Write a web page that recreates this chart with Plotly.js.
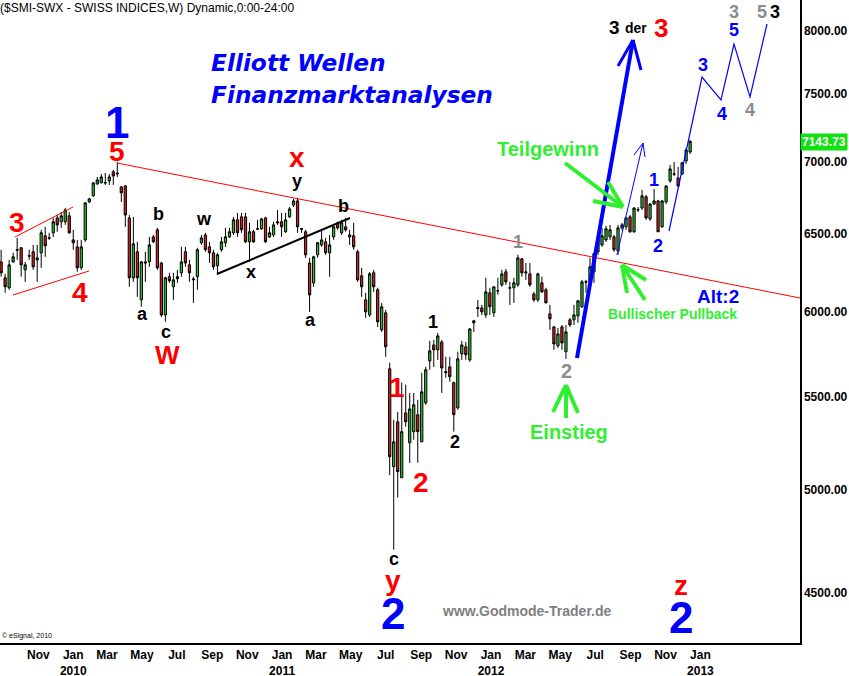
<!DOCTYPE html>
<html><head><meta charset="utf-8">
<script src="https://cdn.plot.ly/plotly-3.0.1.min.js"></script>
<style>html,body{margin:0;padding:0;background:#fff;}#chart{width:849px;height:676px;}</style>
</head><body><div id="chart"></div>
<script>
// Weekly SMI bars (first bar week of 28 Aug 2009)
const firstWeek = [2009, 7, 28];
const opens = [6315,6213,6150,6315,6390,6407,6264,6352,6381,6328,6374,6486,6470,6506,6606,6580,6580,6620,6459,6413,
6277,6459,6715,6757,6840,6847,6850,6861,6925,6910,6819,6826,6606,6213,6381,6074,6315,6315,6479,6526,
6308,5981,6220,6156,6220,6245,6381,6296,6200,6220,6440,6492,6413,6374,6290,6394,6440,6479,6506,6593,
6613,6613,6446,6513,6530,6533,6606,6479,6492,6580,6580,6513,6613,6694,6722,6530,6513,6308,6181,6361,
6426,6446,6374,6479,6573,6506,6546,6479,6486,6381,6226,6074,5981,6245,6137,5890,5994,5660,5120,5361,
5062,5410,5247,5307,5400,5252,5466,5706,5800,5771,5818,5637,5671,5580,5438,5747,5789,5712,5933,6020,
6024,5981,6118,5994,6130,6168,6251,6150,6150,6168,6335,6251,6238,6111,6074,6181,6137,5988,5908,5795,
5908,5760,5951,5951,5975,6031,6185,6187,6251,6381,6426,6459,6479,6479,6387,6539,6546,6613,6513,6660,
6673,6750,6599,6701,6722,6546,6715,6861,6908,6882,6910,7003,7068];
const highs = [6394,6238,6328,6374,6472,6413,6315,6394,6426,6426,6526,6546,6506,6606,6626,6646,6673,6646,6526,6459,
6459,6715,6743,6854,6889,6910,6917,6910,6939,6996,6826,6833,6626,6613,6446,6320,6381,6479,6492,6539,
6315,6220,6245,6245,6264,6413,6413,6328,6220,6407,6492,6506,6446,6394,6374,6479,6539,6539,6613,6640,
6640,6640,6573,6526,6593,6606,6613,6546,6580,6660,6640,6640,6680,6736,6743,6539,6526,6341,6355,6446,
6526,6472,6492,6550,6580,6593,6606,6526,6573,6394,6277,6118,6251,6264,6150,6055,6012,5695,5372,5416,
5580,5569,5522,5522,5483,5637,5671,5824,5830,5872,5830,5730,5730,5586,5760,5824,5818,5902,5951,6074,
6043,6213,6150,6156,6213,6264,6270,6187,6213,6361,6341,6308,6308,6124,6245,6220,6150,6043,5914,5902,
5920,5920,5963,6043,6074,6200,6200,6341,6374,6479,6539,6553,6559,6492,6559,6573,6613,6626,6680,6680,
6798,6764,6708,6805,6729,6729,6826,6974,6996,6960,6996,7097,7155];
const lows = [6220,6118,6137,6308,6328,6220,6187,6328,6264,6187,6277,6348,6459,6479,6513,6539,6559,6500,6394,6251,
6264,6446,6708,6750,6833,6847,6833,6833,6833,6889,6715,6546,6156,6187,6093,6031,6187,6283,6440,6264,
5969,5939,6181,6074,6181,6220,6283,6187,6055,6137,6426,6381,6308,6264,6232,6381,6413,6472,6492,6479,
6506,6440,6315,6440,6526,6526,6440,6472,6479,6559,6479,6506,6606,6680,6506,6506,6341,6000,6156,6341,
6413,6361,6220,6459,6526,6492,6513,6426,6394,6187,6093,5963,5969,6124,5908,5878,5730,5076,4703,4960,
5062,5334,5140,5263,5141,5252,5455,5654,5671,5712,5522,5608,5586,5307,5427,5712,5712,5700,5878,5969,
5981,5963,5981,5969,6105,6156,6168,6043,6055,6156,6220,6200,6156,6062,6062,6118,6055,5890,5771,5783,
5771,5718,5908,5920,5933,6024,6118,6181,6181,6361,6413,6446,6459,6381,6361,6526,6526,6506,6506,6646,
6660,6593,6586,6694,6513,6539,6701,6847,6896,6819,6903,6981,7053];
const closes = [6245,6156,6296,6348,6395,6296,6296,6355,6283,6341,6506,6420,6472,6580,6559,6620,6660,6506,6440,6277,
6413,6708,6736,6847,6868,6889,6847,6889,6896,6915,6778,6626,6213,6433,6213,6315,6308,6426,6446,6277,
5981,6213,6194,6200,6207,6315,6308,6245,6205,6394,6472,6394,6374,6283,6361,6446,6479,6513,6593,6506,
6526,6446,6513,6446,6533,6599,6446,6506,6559,6573,6546,6593,6667,6722,6546,6533,6361,6105,6348,6440,
6459,6374,6426,6546,6539,6573,6526,6492,6413,6200,6156,6000,6238,6156,5939,6031,5789,5173,5252,5094,
5307,5361,5432,5455,5307,5528,5654,5765,5771,5854,5665,5643,5614,5400,5718,5800,5742,5896,5945,6025,
6000,6124,6031,6156,6131,6238,6187,6148,6181,6341,6245,6245,6168,6074,6238,6124,6055,5957,5806,5866,
5812,5878,5920,5981,6068,6187,6188,6283,6368,6459,6486,6533,6526,6394,6539,6559,6606,6513,6673,6662,
6757,6606,6701,6722,6513,6722,6826,6946,6910,6826,6989,7082,7143.73];

const tickDates = ['2009-11-01','2010-01-01','2010-03-01','2010-05-01','2010-07-01','2010-09-01','2010-11-01',
'2011-01-01','2011-03-01','2011-05-01','2011-07-01','2011-09-01','2011-11-01',
'2012-01-01','2012-03-01','2012-05-01','2012-07-01','2012-09-01','2012-11-01','2013-01-01'];
const tickLabels = ['Nov','Jan<br>2010','Mar','May','Jul','Sep','Nov','Jan<br>2011','Mar','May','Jul','Sep','Nov',
'Jan<br>2012','Mar','May','Jul','Sep','Nov','Jan<br>2013'];
const priceTicks = [4500,5000,5500,6000,6500,7000,7500,8000];
const priceLabels = ['4500.00','5000.00','5500.00','6000.00','6500.00','7000.00','7500.00','8000.00'];
const lastPrice = 7143.73;
const chartTitle = '($SMI-SWX - SWISS INDICES,W) Dynamic,0:00-24:00';

const dates = opens.map((_, i) => {
  const d = new Date(Date.UTC(firstWeek[0], firstWeek[1], firstWeek[2] + 7 * i));
  return d.toISOString().slice(0, 10);
});

// plot-area pixel helpers (plot area is 800 x 643)
const PW = 800, PH = 643;
const px = x => x / PW, py = y => 1 - y / PH;
const F = 'Liberation Sans, Arial, sans-serif';
const GREEN = '#2fef2f', BLUE = '#0000ff', RED = '#ff0000';

function seg(x0, y0, x1, y1, color, width) {
  return {type:'line', xref:'paper', yref:'paper', x0:px(x0), y0:py(y0), x1:px(x1), y1:py(y1),
          line:{color:color, width:width}, layer:'above'};
}
function poly(pts, color, width) {
  const d = pts.map((p, i) => (i ? 'L' : 'M') + px(p[0]) + ',' + py(p[1])).join(' ');
  return {type:'path', xref:'paper', yref:'paper', path:d, line:{color:color, width:width}, layer:'above'};
}
function ann(text, x, y, color, size, extra) {
  return Object.assign({text:text, xref:'paper', yref:'paper', x:px(x), y:py(y), showarrow:false,
    xanchor:'center', yanchor:'middle', borderpad:0,
    font:{family:F, size:size, color:color, weight:'bold'}}, extra || {});
}
const headFont = {family:'DejaVu Sans, Verdana, sans-serif', size:23.3, color:BLUE, weight:'bold', style:'italic'};

const shapes = [
  seg(117,163,800,298,RED,1),
  seg(15,237,73,207,RED,1),
  seg(13,295,89,271,RED,1),
  seg(217,274,350,218,'#000000',2),
  seg(577,358,633,40,BLUE,4), seg(633,40,618,66,BLUE,3), seg(633,40,641,70,BLUE,3),
  seg(617,255,643,143,BLUE,1), seg(643,143,634,155,BLUE,1), seg(643,143,645,157,BLUE,1),
  poly([[669,231],[702,77],[721,100],[734,44],[750,97],[767,24]], BLUE, 1.2),
  seg(565,163,623,207,GREEN,4), seg(608,182,623,207,GREEN,4), seg(593,201,623,207,GREEN,4),
  seg(645,300,622,265,GREEN,4), seg(627,293,622,265,GREEN,4), seg(646,280,622,265,GREEN,4),
  seg(566,418,566,385,GREEN,4), seg(553,412,566,385,GREEN,4), seg(578,413,566,385,GREEN,4)
];

const annotations = [
  ann(chartTitle, -1, 8, '#000', 12, {xanchor:'left', font:{family:F, size:12, color:'#000'}}),
  ann('© eSignal, 2010', 1, 636, '#000', 7, {xanchor:'left', font:{family:F, size:7, color:'#000'}}),
  ann('Elliott Wellen', 210, 62, BLUE, 23, {xanchor:'left', font:headFont}),
  ann('Finanzmarktanalysen', 210, 95, BLUE, 23, {xanchor:'left', font:headFont}),
  ann('1', 117, 122, BLUE, 44),
  ann('5', 117, 151, RED, 28),
  ann('3', 17, 222, RED, 28),
  ann('4', 80, 292, RED, 28),
  ann('a', 142, 314, '#000', 18),
  ann('b', 158, 214, '#000', 18),
  ann('c', 166, 332, '#000', 18),
  ann('W', 167, 355, RED, 26),
  ann('w', 204, 219, '#000', 18),
  ann('x', 251, 272, '#000', 18),
  ann('x', 297, 158, RED, 28),
  ann('y', 297, 181, '#000', 18),
  ann('b', 343, 206, '#000', 18),
  ann('a', 310, 320, '#000', 18),
  ann('1', 397, 387, RED, 28),
  ann('2', 421, 482, RED, 28),
  ann('1', 433, 322, '#000', 18),
  ann('2', 455, 442, '#000', 18),
  ann('c', 394, 559, '#000', 18),
  ann('y', 393, 580, RED, 28),
  ann('2', 393, 613, BLUE, 44),
  ann('www.Godmode-Trader.de', 527, 611, '#808080', 14),
  ann('1', 518, 242, '#8c8c8c', 18),
  ann('2', 566, 371, '#8c8c8c', 20),
  ann('Einstieg', 569, 432, GREEN, 20),
  ann('Teilgewinn', 548, 149, GREEN, 20),
  ann('Bullischer Pullback', 672, 314, GREEN, 14),
  ann('Alt:2', 718, 296, BLUE, 19),
  ann('3', 614, 28, '#000', 19),
  ann('der', 636, 28, '#000', 14),
  ann('3', 661, 28, RED, 26),
  ann('1', 654, 180, BLUE, 18),
  ann('2', 658, 246, BLUE, 18),
  ann('3', 703, 65, BLUE, 18),
  ann('4', 722, 114, BLUE, 18),
  ann('5', 734, 30, BLUE, 18),
  ann('3', 734, 12, '#8c8c8c', 18),
  ann('4', 750, 110, '#8c8c8c', 18),
  ann('5', 762, 12, '#8c8c8c', 18),
  ann('3', 775, 12, '#000', 18),
  ann('z', 681, 585, RED, 28),
  ann('2', 681, 617, BLUE, 44),
  {text:lastPrice.toFixed(2), xref:'paper', yref:'y', x:px(800), y:Math.log10(lastPrice), showarrow:false,
   xanchor:'left', yanchor:'middle', bgcolor:'#11e011', borderpad:1,
   font:{family:F, size:12, color:'#ffffff', weight:'bold'}}
];

const trace = {
  type:'candlestick', x:dates, open:opens, high:highs, low:lows, close:closes,
  increasing:{line:{color:'#000000', width:1}, fillcolor:'#2ec12e'},
  decreasing:{line:{color:'#000000', width:1}, fillcolor:'#d42020'},
  hoverinfo:'skip', showlegend:false
};

const layout = {
  width:849, height:676,
  margin:{l:0, r:49, t:0, b:33, pad:0},
  paper_bgcolor:'#ffffff', plot_bgcolor:'#ffffff',
  showlegend:false, boxgap:0.2,
  xaxis:{type:'date', range:['2009-08-26','2013-06-24'], tickvals:tickDates, ticktext:tickLabels,
    tickfont:{family:'Liberation Sans Narrow, Liberation Sans, Arial', size:12, color:'#000', weight:'bold'},
    showgrid:false, zeroline:false, showline:true, linecolor:'#000', linewidth:1.5, ticks:'',
    rangeslider:{visible:false}, fixedrange:true},
  yaxis:{type:'log', side:'right', range:[Math.log10(4274), Math.log10(8258)],
    tickvals:priceTicks, ticktext:priceLabels,
    tickfont:{family:F, size:12, color:'#000', weight:'bold'},
    showgrid:false, zeroline:false, showline:true, linecolor:'#000', linewidth:1.5, ticks:'', fixedrange:true},
  shapes:shapes, annotations:annotations
};

Plotly.newPlot('chart', [trace], layout, {staticPlot:true, displayModeBar:false});
</script></body></html>
